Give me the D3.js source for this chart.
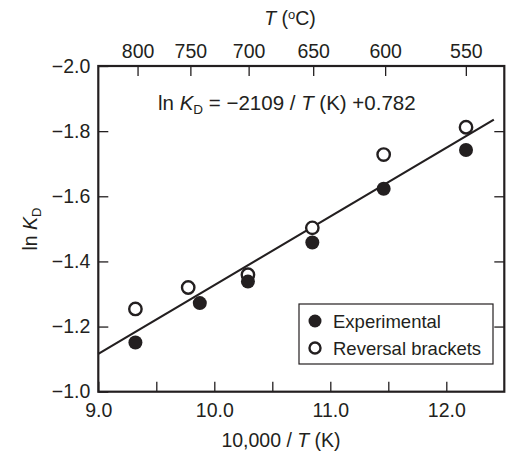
<!DOCTYPE html>
<html><head><meta charset="utf-8">
<script src="https://cdn.jsdelivr.net/npm/d3@7"></script>
<style>body{margin:0;background:#fff}svg{display:block}text{font-family:"Liberation Sans",Arial,sans-serif;fill:#231f20}</style>
</head><body><svg id="c" width="507" height="456"></svg>
<script>
const expX = [9.32, 9.875, 10.29, 10.845, 11.46, 12.17];
const expY = [-1.151, -1.272, -1.338, -1.458, -1.623, -1.742];
const revX = [9.32, 9.775, 10.29, 10.845, 11.46, 12.17];
const revY = [-1.254, -1.32, -1.359, -1.503, -1.728, -1.812];
const xTicks = [9.0, 10.0, 11.0, 12.0];
const xMinor = [9.5, 10.5, 11.5];
const yTicks = [-1.0, -1.2, -1.4, -1.6, -1.8, -2.0];
const topTempsC = [800, 750, 700, 650, 600, 550];
const fitSlope = -2109, fitIntercept = 0.782;
const fitRange = [9.0, 12.41];

const svg = d3.select("#c");
const L = 98.3, R = 504.3, T = 66, B = 391.7;
const x = d3.scaleLinear().domain([9.0, 12.5]).range([L, R]);
const y = d3.scaleLinear().domain([-1.0, -2.0]).range([B, T]);
const ink = "#231f20";
const FS = 19.5;

svg.append("rect").attr("x", L).attr("y", T).attr("width", R - L).attr("height", B - T)
  .attr("fill", "none").attr("stroke", ink).attr("stroke-width", 2.2);

const bAxis = svg.append("g").attr("transform", `translate(0,${B})`)
  .call(d3.axisBottom(x).tickValues(xTicks.concat(xMinor)).tickSize(-10)
  .tickFormat(d => xTicks.includes(d) ? d3.format(".1f")(d) : ""));
bAxis.select(".domain").remove();
bAxis.selectAll("line").attr("stroke", ink).attr("stroke-width", 1.3);
bAxis.selectAll("text").attr("font-size", FS).attr("dy", "0.71em").attr("y", 11);

const lAxis = svg.append("g").attr("transform", `translate(${L},0)`)
  .call(d3.axisLeft(y).tickValues(yTicks).tickSize(-10).tickPadding(8)
  .tickFormat(d => d3.format(".1f")(d).replace("-", "\u2212")));
lAxis.select(".domain").remove();
lAxis.selectAll("line").attr("stroke", ink).attr("stroke-width", 1.3);
lAxis.selectAll("text").attr("font-size", FS);

const rAxis = svg.append("g").attr("transform", `translate(${R},0)`)
  .call(d3.axisRight(y).tickValues(yTicks.slice(1, 5)).tickSize(-10).tickFormat(""));
rAxis.select(".domain").remove();
rAxis.selectAll("line").attr("stroke", ink).attr("stroke-width", 1.3);

const tAxis = svg.append("g").attr("transform", `translate(0,${T})`)
  .call(d3.axisTop(x).tickValues(topTempsC.map(c => 10000 / (c + 273.15) + 0.02)).tickSize(-10).tickPadding(8)
  .tickFormat((d, i) => topTempsC[i]));
tAxis.select(".domain").remove();
tAxis.selectAll("line").attr("stroke", ink).attr("stroke-width", 1.3);
tAxis.selectAll("text").attr("font-size", FS);

const fit = v => fitSlope / (10000 / v) + fitIntercept;
svg.append("line").attr("x1", x(fitRange[0])).attr("y1", y(fit(fitRange[0])))
  .attr("x2", x(fitRange[1])).attr("y2", y(fit(fitRange[1])))
  .attr("stroke", ink).attr("stroke-width", 2.2);

svg.append("g").selectAll("circle").data(revX).join("circle")
  .attr("cx", (d, i) => x(d)).attr("cy", (d, i) => y(revY[i])).attr("r", 6.2)
  .attr("fill", "#fff").attr("stroke", ink).attr("stroke-width", 2.4);
svg.append("g").selectAll("circle").data(expX).join("circle")
  .attr("cx", (d, i) => x(d)).attr("cy", (d, i) => y(expY[i])).attr("r", 7)
  .attr("fill", ink);

const eq = svg.append("text").attr("x", 158).attr("y", 110).attr("font-size", 20.5);
eq.append("tspan").text("ln ");
eq.append("tspan").attr("font-style", "italic").text("K");
eq.append("tspan").attr("font-size", 13.5).attr("dy", 4).text("D");
eq.append("tspan").attr("dy", -4).text(" = \u22122109 / ");
eq.append("tspan").attr("font-style", "italic").text("T");
eq.append("tspan").text(" (K) +0.782");

const tt = svg.append("text").attr("x", 290).attr("y", 25).attr("text-anchor", "middle").attr("font-size", FS);
tt.append("tspan").attr("font-style", "italic").text("T");
tt.append("tspan").text(" (");
tt.append("tspan").attr("font-size", 13).attr("dy", -6).text("o");
tt.append("tspan").attr("dy", 6).text("C)");

const bt = svg.append("text").attr("x", 281).attr("y", 447).attr("text-anchor", "middle").attr("font-size", FS);
bt.append("tspan").text("10,000 / ");
bt.append("tspan").attr("font-style", "italic").text("T");
bt.append("tspan").text(" (K)");

const yt = svg.append("text").attr("transform", "translate(37,229) rotate(-90)").attr("text-anchor", "middle").attr("font-size", FS);
yt.append("tspan").text("ln ");
yt.append("tspan").attr("font-style", "italic").text("K");
yt.append("tspan").attr("font-size", 13).attr("dy", 4).text("D");

const lg = svg.append("g");
lg.append("rect").attr("x", 299).attr("y", 304).attr("width", 194).attr("height", 60)
  .attr("fill", "#fff").attr("stroke", ink).attr("stroke-width", 1.2);
lg.append("circle").attr("cx", 315).attr("cy", 321).attr("r", 6.5).attr("fill", ink);
lg.append("circle").attr("cx", 315).attr("cy", 348).attr("r", 5.5).attr("fill", "#fff").attr("stroke", ink).attr("stroke-width", 2.4);
lg.append("text").attr("x", 333).attr("y", 327.5).attr("font-size", 18.5).text("Experimental");
lg.append("text").attr("x", 333).attr("y", 355).attr("font-size", 18.5).text("Reversal brackets");
</script></body></html>
